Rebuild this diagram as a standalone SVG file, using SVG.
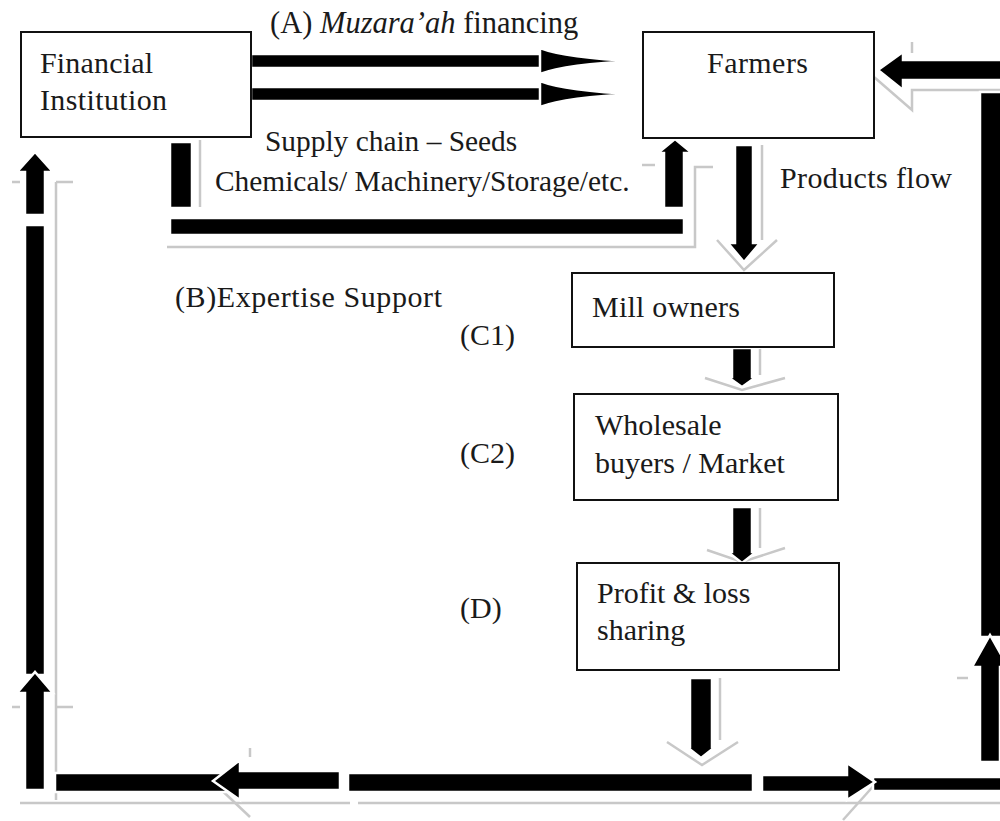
<svg xmlns="http://www.w3.org/2000/svg" width="1000" height="821" viewBox="0 0 1000 821">
<style>
  .box{fill:#fff;stroke:#111;stroke-width:2}
  .t{font-family:'Liberation Serif','Times New Roman',serif;font-size:30px;fill:#1a1a1a}
  .blk{fill:#000;stroke:#fff;stroke-width:2.5;stroke-linejoin:miter}
  .sh{fill:none;stroke:#c8c8c8;stroke-width:2.5}
</style>
<rect width="1000" height="821" fill="#fff"/>

<g id="connectors">
  <g class="sh">
    <path d="M200,140 V207"/>
    <path d="M167,247 H695 V167 H713"/>
    <path d="M642,165 H655"/>
    <path d="M762,145 V240"/>
    <path d="M717,240 L744,270 L777,240"/>
    <path d="M760,349 V375"/>
    <path d="M705,378 L742,390 L785,378"/>
    <path d="M760,508 V548"/>
    <path d="M707,550 L742,562 L785,548"/>
    <path d="M720,678 V740"/>
    <path d="M667,742 L702,765 L738,742"/>
    <path d="M874,77 L912,110 V90 H1000"/>
    <path d="M912,42 V53"/>
    <path d="M12,182 H20 M56,182 H73"/>
    <path d="M56,182 V800"/>
    <path d="M12,707 H20 M55,707 H73"/>
    <path d="M20,803 H350 M358,803 H1000"/>
    <path d="M213,782 L250,817"/>
    <path d="M250,748 V757"/>
    <path d="M877,782 L843,820"/>
    <path d="M957,678 H968"/>
  </g>

  <rect class="blk" x="251" y="54" width="295" height="14" stroke="none"/>
  <path class="blk" d="M540,48 Q566,58 637,61 Q566,64 540,74 Z" stroke="none"/>
  <rect class="blk" x="251" y="87" width="295" height="14" stroke="none"/>
  <path class="blk" d="M540,81 Q566,91 637,94 Q566,97 540,107 Z" stroke="none"/>

  <rect class="blk" x="170" y="142" width="22" height="66"/>
  <rect class="blk" x="170" y="218" width="514" height="17"/>
  <path class="blk" d="M664,208 V153 H658 L675,139 L692,153 H684 V208 Z"/>

  <path class="blk" d="M735,145 H753 V243 H760 L744,262 L728,243 H735 Z"/>
  <path class="blk" d="M732,348 H752 V377 H756 L742,387 L728,377 H732 Z"/>
  <path class="blk" d="M732,507 H752 V552 H756 L742,563 L728,552 H732 Z"/>
  <path class="blk" d="M690,678 H712 V747 H715 L701,758 L687,747 H690 Z"/>

  <rect class="blk" x="55" y="773" width="190" height="19"/>
  <path class="blk" d="M340,771 V790 H240 V800 L213,781 L240,760 V771 Z"/>
  <rect class="blk" x="348" y="773" width="405" height="19"/>
  <rect class="blk" x="873" y="777" width="130" height="14"/>
  <path class="blk" d="M762,775 H847 V763 L875,782 L847,800 V792 H762 Z"/>

  <rect class="blk" x="980" y="92" width="24" height="545"/>
  <path class="blk" d="M980,762 V667 H972 L990,635 L1008,667 H1000 V762 Z"/>
  <path class="blk" d="M1003,60 H903 V52 L878,70 L903,90 V80 H1003 Z"/>

  <rect class="blk" x="25" y="225" width="20" height="450"/>
  <path class="blk" d="M25,790 V693 H17 L35,672 L53,693 H45 V790 Z"/>
  <path class="blk" d="M25,215 V172 H17 L35,152 L53,172 H45 V215 Z"/>
</g>

<g id="financial-institution">
  <rect class="box" x="21" y="32" width="230" height="105"/>
  <text class="t" x="40" y="73" textLength="113">Financial</text>
  <text class="t" x="40" y="110" textLength="127">Institution</text>
</g>

<g id="farmers">
  <rect class="box" x="643" y="32" width="231" height="106"/>
  <text class="t" x="707" y="73" textLength="101">Farmers</text>
</g>

<g id="mill-owners">
  <rect class="box" x="572" y="273" width="262" height="74"/>
  <text class="t" x="592" y="317" textLength="148">Mill owners</text>
</g>

<g id="wholesale">
  <rect class="box" x="574" y="394" width="264" height="106"/>
  <text class="t" x="595" y="435">Wholesale</text>
  <text class="t" x="595" y="473">buyers / Market</text>
</g>

<g id="profit-loss">
  <rect class="box" x="577" y="563" width="262" height="107"/>
  <text class="t" x="597" y="603">Profit &amp; loss</text>
  <text class="t" x="597" y="640">sharing</text>
</g>

<g id="labels">
  <text class="t" x="270" y="33" style="font-size:30.5px">(A) <tspan font-style="italic">Muzara’ah</tspan> financing</text>
  <text class="t" x="265" y="151" style="font-size:29.4px">Supply chain – Seeds</text>
  <text class="t" x="215" y="191" style="font-size:29.4px">Chemicals/ Machinery/Storage/etc.</text>
  <text class="t" x="780" y="188" textLength="172">Products flow</text>
  <text class="t" x="175" y="307" textLength="267">(B)Expertise Support</text>
  <text class="t" x="460" y="345">(C1)</text>
  <text class="t" x="460" y="463">(C2)</text>
  <text class="t" x="460" y="618">(D)</text>
</g>
</svg>
